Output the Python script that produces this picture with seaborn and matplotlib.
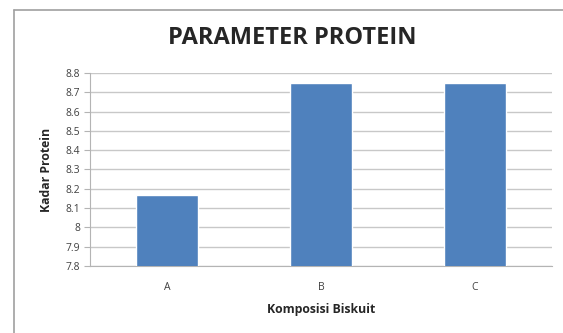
import numpy as np
import pandas as pd
import matplotlib
matplotlib.use('Agg')
import matplotlib.pyplot as plt
from matplotlib.lines import Line2D
import seaborn as sns

## Data
categories = ['A', 'B', 'C']
protein    = [8.17, 8.75, 8.75]
yticks     = [7.8, 7.9, 8.0, 8.1, 8.2, 8.3, 8.4, 8.5, 8.6, 8.7, 8.8]
ytick_lbls = ['7.8', '7.9', '8', '8.1', '8.2', '8.3', '8.4', '8.5', '8.6', '8.7', '8.8']

df = pd.DataFrame({'Komposisi': categories, 'Protein': protein})

sns.set_style('white')
plt.rcParams['font.family'] = ['Open Sans', 'DejaVu Sans']

fig = plt.figure(figsize=(5.63, 3.33), dpi=100)
ax = fig.add_axes([0.160, 0.201, 0.820, 0.580])

sns.barplot(data=df, x='Komposisi', y='Protein', color='#4F81BD', saturation=1,
            width=0.4, ax=ax, zorder=3)

## Axes customization
ax.set_ylim(7.8, 8.8)
ax.set_yticks(yticks)
ax.set_yticklabels(ytick_lbls)
ax.yaxis.grid(True, color='#C8C8C8', linewidth=1, zorder=0)
ax.set_axisbelow(True)
for side in ['top', 'right']:
    ax.spines[side].set_visible(False)
ax.spines['left'].set_color('#B4B4B4')
ax.spines['bottom'].set_color('#B4B4B4')
ax.tick_params(axis='y', which='major', left=True, length=4, color='#B4B4B4',
               labelsize=7.5, labelcolor='#404040', pad=3)
ax.tick_params(axis='x', bottom=False, labelsize=7.5, labelcolor='#404040', pad=8)
ax.set_xlabel('Komposisi Biskuit', fontsize=8.8, fontweight='bold', labelpad=7)
ax.set_ylabel('Kadar Protein', fontsize=8.8, fontweight='bold', labelpad=9)

fig.text(0.519, 0.886, 'PARAMETER PROTEIN', ha='center', va='center',
         fontsize=17, fontweight='bold')

## Chart border
fig.add_artist(Line2D([14/563, 14/563], [0, 1 - 10/333], color='#A0A0A0', lw=1.2,
                      transform=fig.transFigure))
fig.add_artist(Line2D([14/563, 1], [1 - 10/333, 1 - 10/333], color='#A0A0A0', lw=1.2,
                      transform=fig.transFigure))

fig.savefig('out.png', dpi=100)
